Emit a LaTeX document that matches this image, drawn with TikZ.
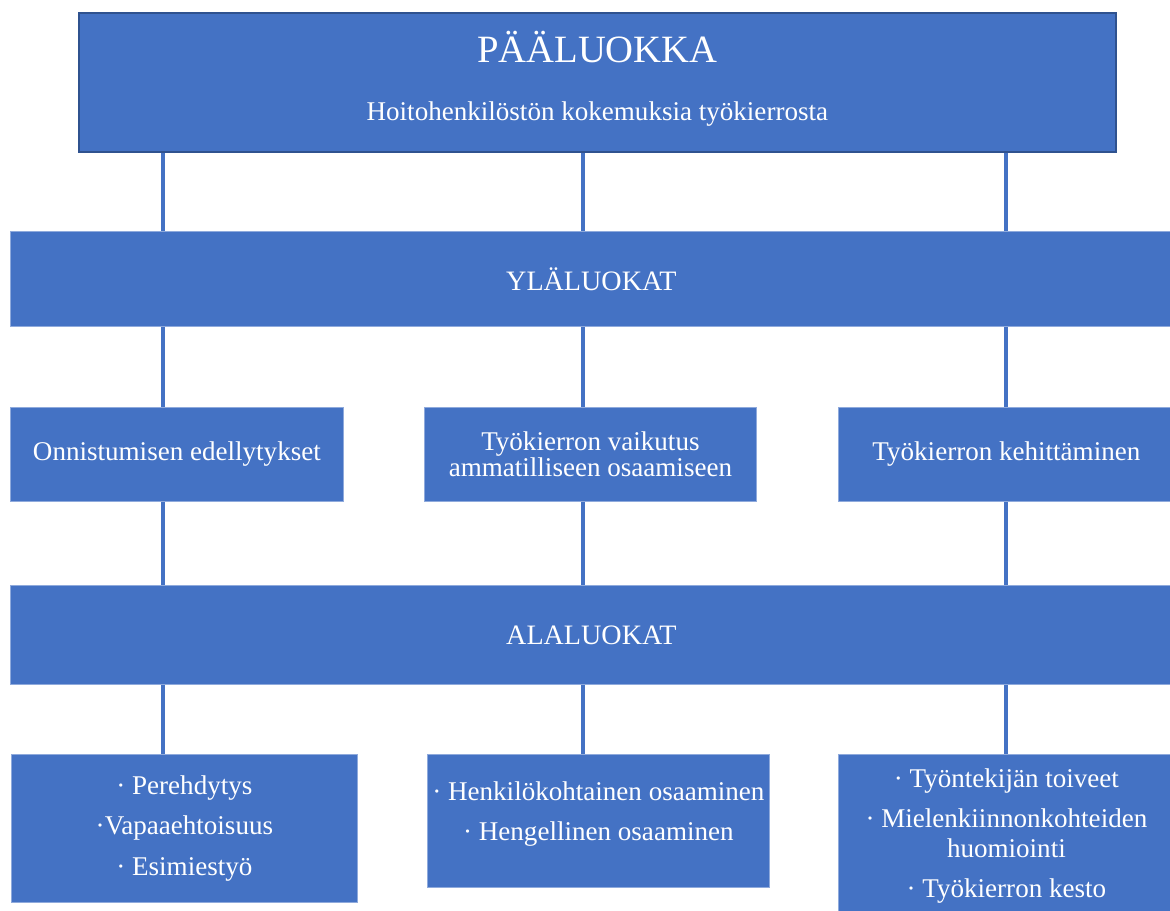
\documentclass[tikz,border=0pt]{standalone}
\usepackage{fontspec}
\setmainfont{Liberation Serif}
\usetikzlibrary{positioning}

\definecolor{boxblue}{HTML}{4472C4}
\definecolor{darkedge}{HTML}{2F528F}
\definecolor{lightedge}{HTML}{8FAADC}

\begin{document}
\begin{tikzpicture}[x=0.02cm, y=-0.02cm,
    box/.style={rectangle, fill=boxblue, draw=lightedge, line width=0.5pt,
      text=white, anchor=north west, inner sep=0pt, align=center,
      font=\fontsize{15.4}{17}\selectfont},
    band/.style={box, minimum width=23.24cm, font=\fontsize{16}{19}\selectfont},
    link/.style={draw=boxblue, line width=2pt}]
  \useasboundingbox (0,0) rectangle (1170,911);

  % columns of the connectors
  \coordinate (colA) at (163,0);
  \coordinate (colB) at (583,0);
  \coordinate (colC) at (1006,0);

  % main class
  \node[box, draw=darkedge, line width=1.1pt, minimum width=20.74cm, minimum height=2.78cm]
    (main) at (78,12) {{\fontsize{22}{24}\selectfont PÄÄLUOKKA}\\[16pt]
      Hoitohenkilöstön kokemuksia työkierrosta\\[-10pt]\mbox{}};

  % upper classes
  \node[band, minimum height=1.9cm] (upper) at (10,231) {YLÄLUOKAT};
  \node[box, minimum width=6.66cm, minimum height=1.88cm] (upA) at (10,407)
    {Onnistumisen edellytykset};
  \node[box, minimum width=6.64cm, minimum height=1.88cm] (upB) at (424,407)
    {Työkierron vaikutus\\[-2pt]ammatilliseen osaamiseen};
  \node[box, minimum width=6.72cm, minimum height=1.88cm] (upC) at (838,407)
    {Työkierron kehittäminen};

  % sub classes
  \node[band, minimum height=1.98cm] (sub) at (10,585) {ALALUOKAT};
  \node[box, minimum width=6.92cm, minimum height=2.96cm] (subA) at (11,754)
    {· Perehdytys\\[6pt]·Vapaaehtoisuus\\[6pt]· Esimiestyö};
  \node[box, minimum width=6.84cm, minimum height=2.66cm] (subB) at (427,754)
    {· Henkilökohtainen osaaminen\\[6pt]· Hengellinen osaaminen\\[-6pt]\mbox{}};
  \node[box, minimum width=6.72cm, minimum height=3.26cm] (subC) at (838,754)
    {· Työntekijän toiveet\\[6pt]· Mielenkiinnonkohteiden\\huomiointi\\[6pt]· Työkierron kesto};

  \foreach \c/\u/\s in {colA/upA/subA, colB/upB/subB, colC/upC/subC} {
    \draw[link] (main.south -| \c) -- (upper.north -| \c);
    \draw[link] (upper.south -| \c) -- (\u.north -| \c);
    \draw[link] (\u.south -| \c) -- (sub.north -| \c);
    \draw[link] (sub.south -| \c) -- (\s.north -| \c);
  }
\end{tikzpicture}
\end{document}
